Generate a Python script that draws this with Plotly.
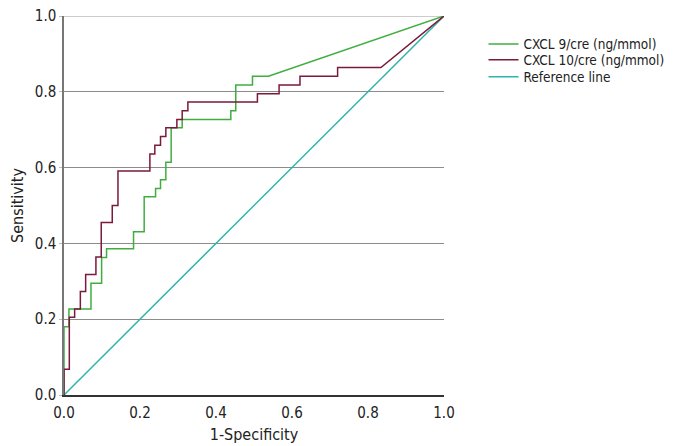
import plotly.graph_objects as go

# CXCL 9/cre ROC step curve (1-specificity, sensitivity)
cxcl9_fpr = [0.0, 0.0, 0.013, 0.013, 0.071, 0.071, 0.099, 0.099, 0.112, 0.112, 0.183, 0.183,
             0.211, 0.211, 0.241, 0.241, 0.254, 0.254, 0.268, 0.268, 0.282, 0.282, 0.311, 0.311,
             0.439, 0.439, 0.452, 0.452, 0.496, 0.496, 0.538, 1.0]
cxcl9_tpr = [0.0, 0.180, 0.180, 0.227, 0.227, 0.295, 0.295, 0.363, 0.363, 0.386, 0.386, 0.431,
             0.431, 0.523, 0.523, 0.545, 0.545, 0.568, 0.568, 0.614, 0.614, 0.705, 0.705, 0.727,
             0.727, 0.750, 0.750, 0.818, 0.818, 0.841, 0.841, 1.0]

# CXCL 10/cre ROC step curve
cxcl10_fpr = [0.0, 0.0, 0.014, 0.014, 0.028, 0.028, 0.043, 0.043, 0.057, 0.057, 0.084, 0.084,
              0.098, 0.098, 0.127, 0.127, 0.142, 0.142, 0.226, 0.226, 0.239, 0.239, 0.254, 0.254,
              0.268, 0.268, 0.297, 0.297, 0.311, 0.311, 0.326, 0.326, 0.509, 0.509, 0.566, 0.566,
              0.621, 0.621, 0.720, 0.720, 0.834, 1.0]
cxcl10_tpr = [0.0, 0.068, 0.068, 0.205, 0.205, 0.227, 0.227, 0.273, 0.273, 0.318, 0.318, 0.364,
              0.364, 0.455, 0.455, 0.500, 0.500, 0.591, 0.591, 0.636, 0.636, 0.659, 0.659, 0.682,
              0.682, 0.705, 0.705, 0.727, 0.727, 0.750, 0.750, 0.773, 0.773, 0.795, 0.795, 0.818,
              0.818, 0.841, 0.841, 0.864, 0.864, 1.0]

ref_x = [0.0, 1.0]
ref_y = [0.0, 1.0]

tick_vals = [0.0, 0.2, 0.4, 0.6, 0.8, 1.0]
tick_text = ["0.0", "0.2", "0.4", "0.6", "0.8", "1.0"]

FONT = "DejaVu Sans Condensed, DejaVu Sans, sans-serif"
LEG_FONT = dict(family=FONT, size=13.5, color="#222")

fig = go.Figure()
fig.add_trace(go.Scatter(x=ref_x, y=ref_y, mode="lines", name="Reference line",
                         line=dict(color="#2eb3ad", width=1.5), showlegend=False))
fig.add_trace(go.Scatter(x=cxcl9_fpr, y=cxcl9_tpr, mode="lines", name="CXCL 9/cre (ng/mmol)",
                         line=dict(color="#3fae3f", width=1.5), legend="legend"))
fig.add_trace(go.Scatter(x=cxcl10_fpr, y=cxcl10_tpr, mode="lines", name="CXCL 10/cre (ng/mmol)",
                         line=dict(color="#7a1a3c", width=1.5), legend="legend2"))
# legend entry for the reference line
fig.add_trace(go.Scatter(x=[None], y=[None], mode="lines", name="Reference line",
                         line=dict(color="#2eb3ad", width=1.5), legend="legend3"))

leg_common = dict(x=1.104, xanchor="left", yanchor="middle", itemwidth=30,
                  font=LEG_FONT, bgcolor="rgba(0,0,0,0)", borderwidth=0)

# page body has an 8px margin: figure is 666x438 starting at (8, 8)
fig.update_layout(
    width=666, height=438,
    margin=dict(l=56, r=230, t=8, b=51, autoexpand=False),
    paper_bgcolor="white", plot_bgcolor="white",
    font=dict(family=FONT, size=13, color="#222"),
    legend=dict(y=0.9255, **leg_common),
    legend2=dict(y=0.8839, **leg_common),
    legend3=dict(y=0.8390, **leg_common),
    xaxis=dict(range=[0, 1], tickvals=tick_vals, ticktext=tick_text, showgrid=False,
               zeroline=False, showline=True, linecolor="#333", linewidth=1.5,
               ticks="", automargin=False, ticklabelstandoff=3, ticklabeloverflow="allow",
               title=dict(text="1-Specificity", standoff=8),
               tickfont=dict(size=15)),
    yaxis=dict(range=[0, 1], tickvals=tick_vals, ticktext=tick_text, showgrid=True,
               gridcolor="#8c8c8c", gridwidth=1.2, zeroline=False, showline=True,
               linecolor="#777", linewidth=1.5, ticks="outside", ticklen=3,
               tickcolor="#bbb", automargin=False, ticklabeloverflow="allow",
               title=dict(text="Sensitivity", standoff=9),
               tickfont=dict(size=15)),
    shapes=[dict(type="line", xref="paper", yref="y", x0=0, x1=1, y0=1, y1=1,
                 line=dict(color="#cccccc", width=2), layer="below")],
)

fig.write_html("out.html")
